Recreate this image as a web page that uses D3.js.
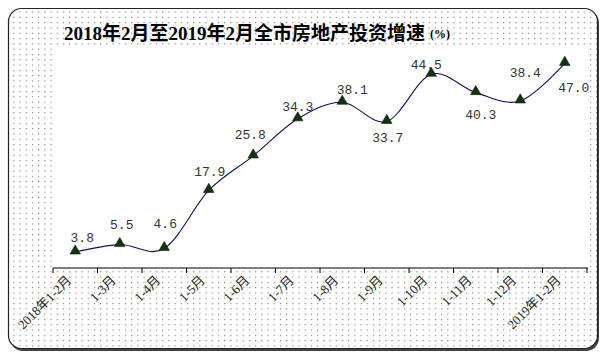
<!DOCTYPE html>
<html><head><meta charset="utf-8">
<script src="https://cdn.jsdelivr.net/npm/d3@7"></script>
<style>
html,body{margin:0;padding:0;background:#fff;}
svg{display:block;}
</style></head>
<body>
<svg id="c" width="610" height="359"></svg>
<script>
const categories = ["2018年1-2月","1-3月","1-4月","1-5月","1-6月","1-7月","1-8月","1-9月","1-10月","1-11月","1-12月","2019年1-2月"];
const values = [3.8, 5.5, 4.6, 17.9, 25.8, 34.3, 38.1, 33.7, 44.5, 40.3, 38.4, 47.0];
const valueLabels = ["3.8","5.5","4.6","17.9","25.8","34.3","38.1","33.7","44.5","40.3","38.4","47.0"];
const titleMain = "2018年2月至2019年2月全市房地产投资增速";
const titleUnit = "(%)";
// label placement offsets (layout, in px relative to the point)
const labelDx = [7, 2, 1, 1, -3, 0, 10, 1, -5, 5, 5, 9];
const labelDy = [-15, -21, -26, -19, -22, -13, -13, 16, -10, 21, -29, 24];

const svg = d3.select("#c");

// dotted background pattern
const defs = svg.append("defs");
const pat = defs.append("pattern").attr("id","dots").attr("patternUnits","userSpaceOnUse")
  .attr("width",6.2).attr("height",5.3);
pat.append("rect").attr("x",1).attr("y",1).attr("width",1).attr("height",1).attr("fill","#555");

// outer shadow + frame
svg.append("rect").attr("x",10).attr("y",10).attr("width",589).attr("height",341).attr("rx",13)
  .attr("fill","#444");
svg.append("rect").attr("x",8.5).attr("y",8.5).attr("width",589).attr("height",340).attr("rx",13)
  .attr("fill","#fff").attr("stroke","#222").attr("stroke-width",1.2);
svg.append("rect").attr("x",9).attr("y",9).attr("width",588).attr("height",339).attr("rx",13)
  .attr("fill","url(#dots)");

const plot = {left:53, right:590, top:45, bottom:268};
svg.append("rect").attr("x",plot.left).attr("y",plot.top)
  .attr("width",plot.right-plot.left).attr("height",plot.bottom-plot.top).attr("fill","#fff");

const x = d3.scaleBand().domain(categories).range([53, 587]).paddingInner(0).paddingOuter(0);
const y = d3.scaleLinear().domain([0, 50]).range([268.6, 269 - 50*4.375]);

// x axis
const axisG = svg.append("g").attr("transform","translate(0,268)");
axisG.append("line").attr("x1",53).attr("x2",588).attr("y1",0).attr("y2",0).attr("stroke","#000");
const tickPos = categories.map(c => x(c)).concat([x(categories[categories.length-1]) + x.bandwidth()]);
axisG.selectAll("line.t").data(tickPos).join("line").attr("class","t")
  .attr("x1",d=>d).attr("x2",d=>d).attr("y1",0).attr("y2",5).attr("stroke","#000");

axisG.selectAll("text.lab").data(categories).join("text").attr("class","lab")
  .attr("transform", d => `translate(${x(d)+x.bandwidth()/2 - 3},${13}) rotate(-45)`)
  .attr("text-anchor","end")
  .attr("font-family","'Liberation Serif','Noto Sans CJK SC',serif")
  .attr("font-size",13).attr("fill","#222")
  .text(d=>d);

// title
const title = svg.append("text").attr("x",64).attr("y",40)
  .attr("font-family","'Liberation Serif','Noto Sans CJK SC',serif")
  .attr("font-weight","bold").attr("font-size",19).attr("fill","#000");
title.append("tspan").text(titleMain);
title.append("tspan").attr("font-size",12).attr("dx",5).attr("dy",-2).text(titleUnit);

// line
const cx = d => x(d) + x.bandwidth()/2;
const line = d3.line().x((d,i)=>cx(categories[i])).y(d=>y(d)).curve(d3.curveCatmullRom.alpha(0));
svg.append("path").attr("d", line(values)).attr("fill","none").attr("stroke","#10105a").attr("stroke-width",1.1);

// markers
const tri = d3.symbol().type(d3.symbolTriangle).size(48);
svg.selectAll("path.m").data(values).join("path").attr("class","m")
  .attr("d", tri)
  .attr("transform",(d,i)=>`translate(${cx(categories[i])},${y(d)-1})`)
  .attr("fill","#123312").attr("stroke","#0b220b").attr("stroke-width",0.6);

// data labels
svg.selectAll("text.v").data(values).join("text").attr("class","v")
  .attr("x",(d,i)=>cx(categories[i]) + labelDx[i])
  .attr("y",(d,i)=>y(d) + labelDy[i] + 5)
  .attr("text-anchor","middle")
  .attr("font-family","'Liberation Mono',monospace")
  .attr("font-size",13).attr("fill","#333")
  .text((d,i)=>valueLabels[i]);
</script>
</body></html>
